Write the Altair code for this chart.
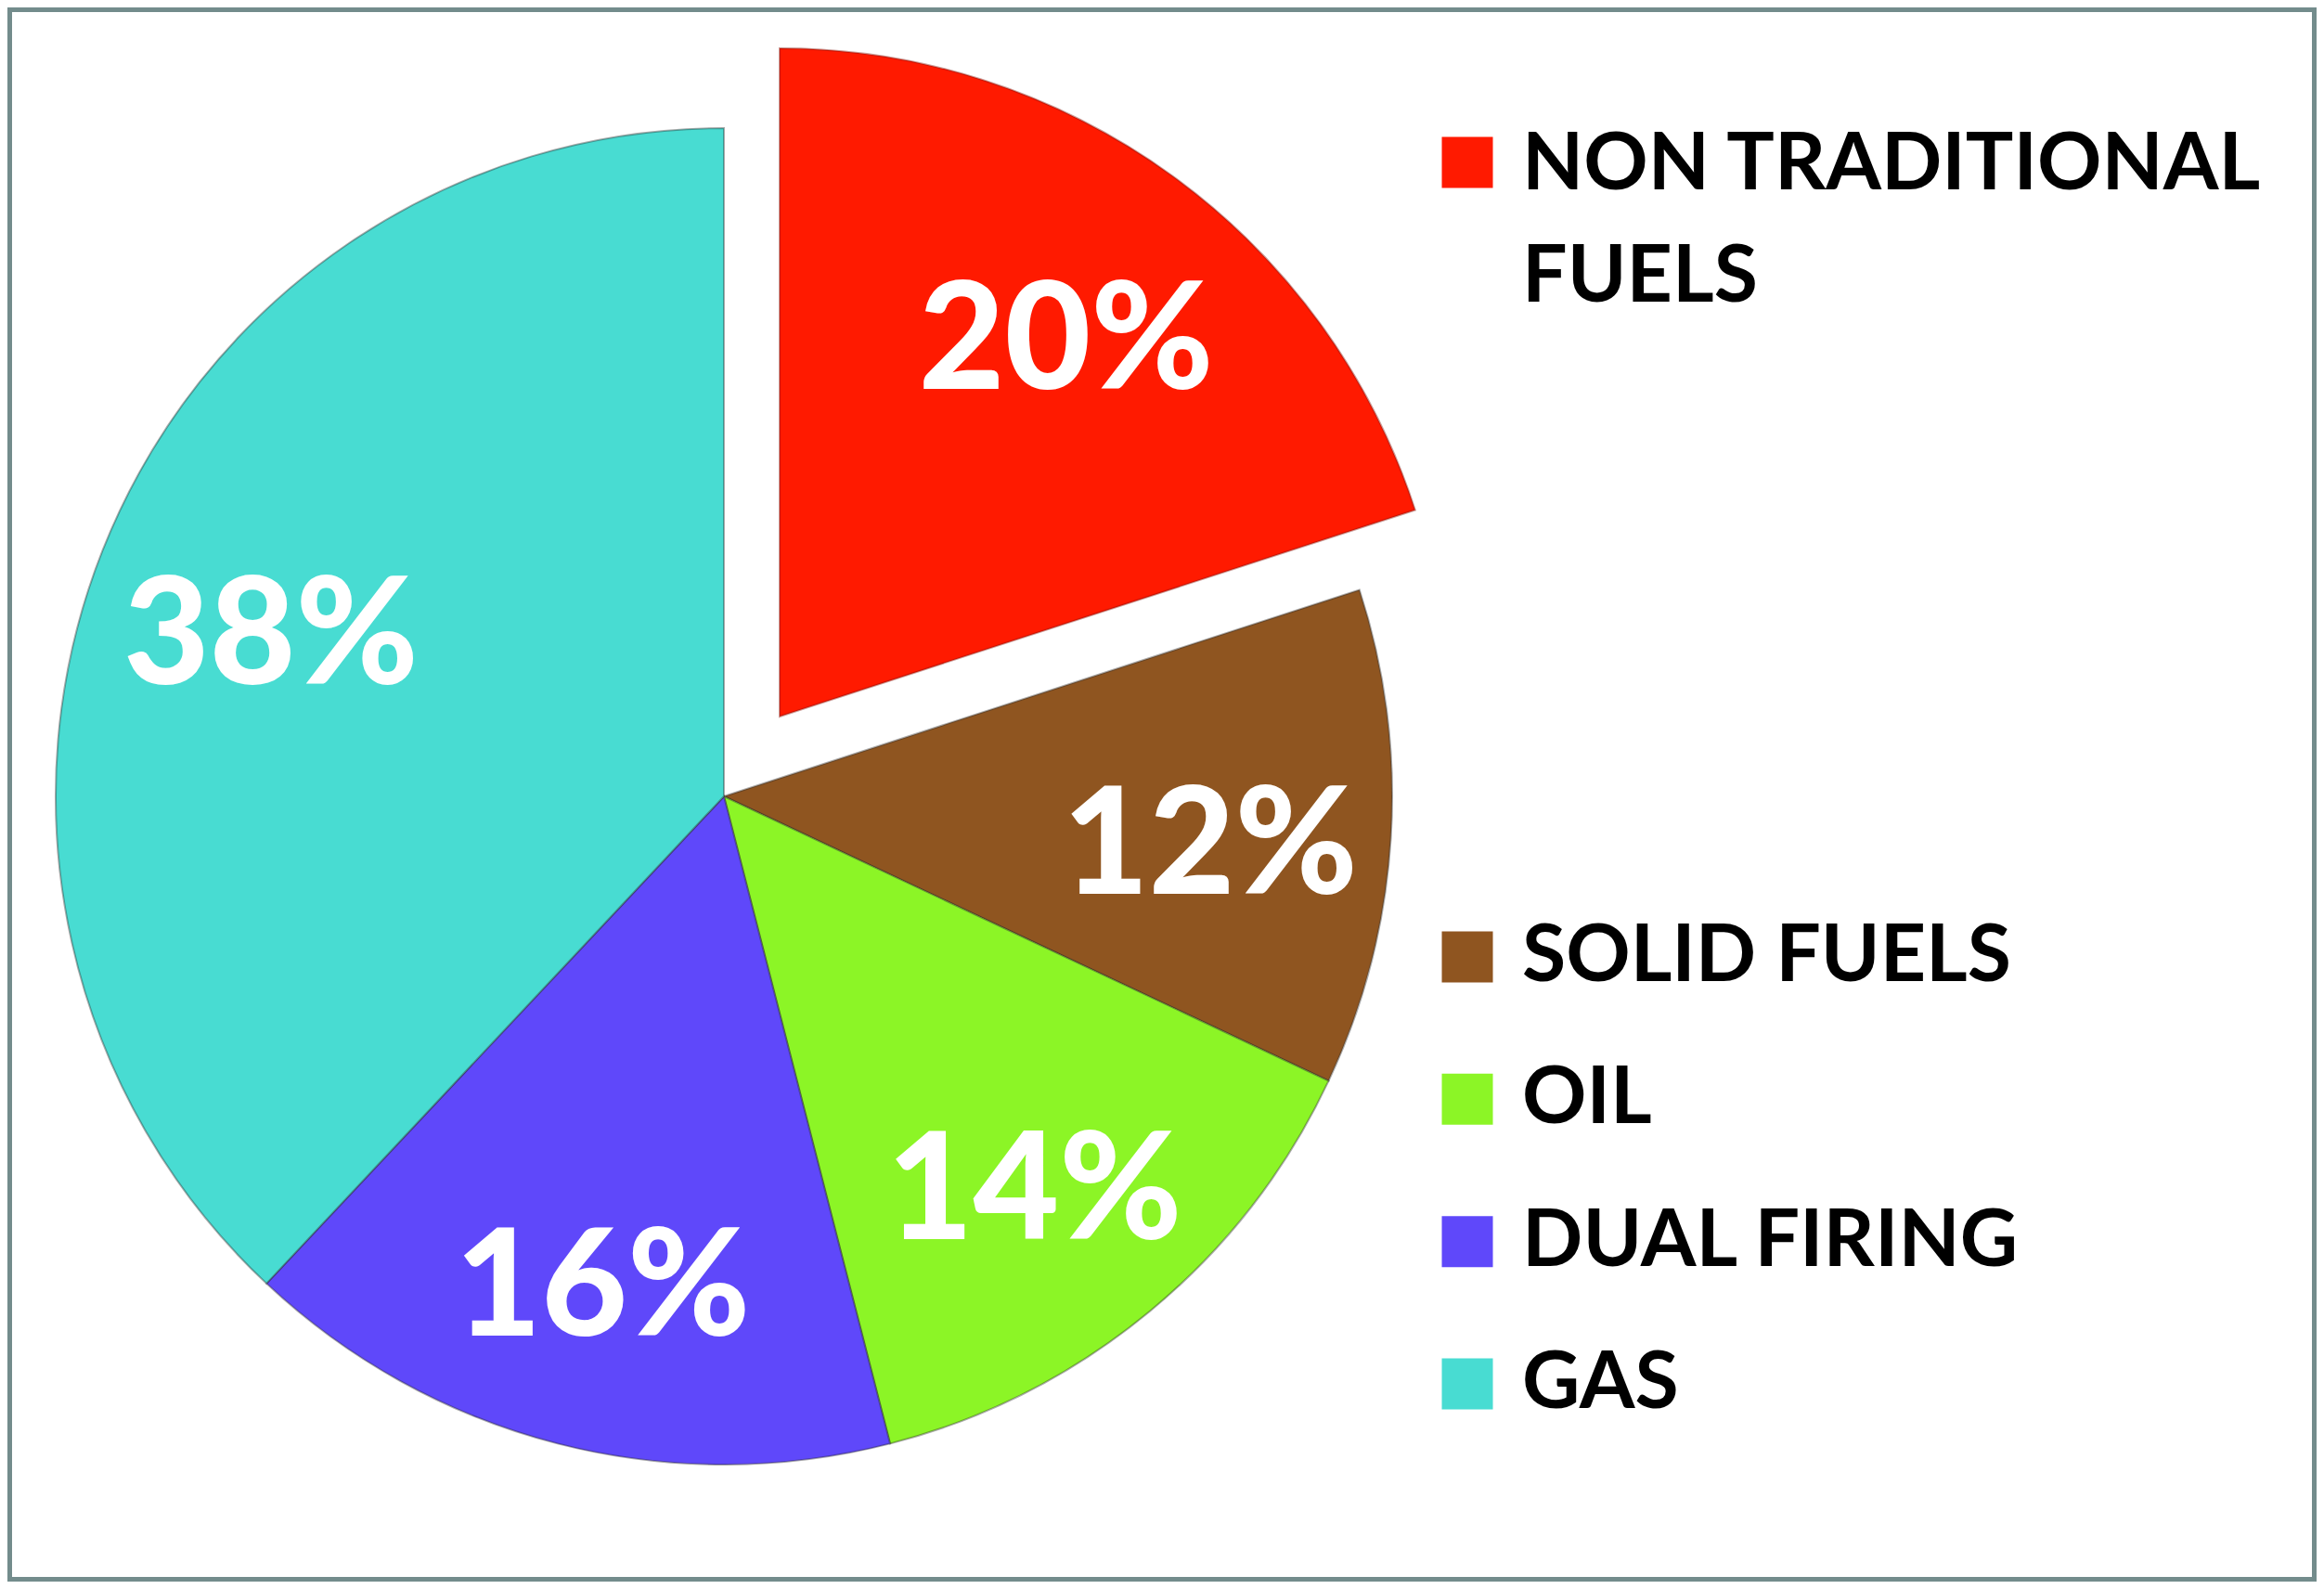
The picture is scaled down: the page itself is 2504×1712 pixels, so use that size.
import math
import altair as alt
import pandas as pd

# ---- data ----
categories = ["NON TRADITIONAL FUELS", "SOLID FUELS", "OIL", "DUAL FIRING", "GAS"]
shares = [20, 12, 14, 16, 38]
colors = ["#FF1A00", "#8F5520", "#8CF526", "#5F48FA", "#48DCD2"]

df = pd.DataFrame({"category": categories, "value": shares, "order": list(range(len(categories)))})

# ---- layout (pixels) ----
W, H = 2488, 1696
CX, CY = 772, 850
R = 720
EXPLODE_DX, EXPLODE_DY = 60, -86
LABEL_R = 525
LEG_SQ_X = 1573
LEG_TX_X = 1632
FONT = "Lato"

theta_scale = alt.Scale(domain=[0, 100], range=[0, 2 * math.pi])
color_scale = alt.Scale(domain=categories, range=colors)

base = (
    alt.Chart(df)
    .transform_window(cum="sum(value)", sort=[alt.SortField("order")], frame=[None, 0])
    .transform_calculate(
        start="datum.cum - datum.value",
        mid="datum.cum - datum.value / 2",
        label="datum.value + '%'",
    )
)

arc_enc = dict(
    theta=alt.Theta("start:Q", scale=theta_scale),
    theta2="cum:Q",
    color=alt.Color("category:N", scale=color_scale, legend=None),
)

arcs_main = base.transform_filter("datum.order > 0").mark_arc(
    radius=R, stroke="#2a2a2a", strokeWidth=2, strokeOpacity=0.4
).encode(x=alt.value(CX), y=alt.value(CY), **arc_enc)

arc_expl = base.transform_filter("datum.order == 0").mark_arc(
    radius=R, stroke="#7a0a00", strokeWidth=2, strokeOpacity=0.4
).encode(x=alt.value(CX + EXPLODE_DX), y=alt.value(CY + EXPLODE_DY), **arc_enc)

lab_style = dict(radius=LABEL_R, font=FONT, fontWeight=900, fontSize=160, color="white",
                 align="center", baseline="middle", dy=24)

labels_main = base.transform_filter("datum.order > 0").mark_text(**lab_style).encode(
    theta=alt.Theta("mid:Q", scale=theta_scale), text="label:N",
    x=alt.value(CX), y=alt.value(CY),
)
labels_expl = base.transform_filter("datum.order == 0").mark_text(**lab_style).encode(
    theta=alt.Theta("mid:Q", scale=theta_scale), text="label:N",
    x=alt.value(CX + EXPLODE_DX), y=alt.value(CY + EXPLODE_DY),
)

# ---- legend ----
leg_rest = alt.Chart(df).transform_filter("datum.order > 0")
rest_y = alt.Y("category:N", scale=alt.Scale(domain=categories[1:], range=[1023, 1483], padding=0), axis=None)

leg_sq_rest = leg_rest.mark_square(size=3025, opacity=1).encode(
    x=alt.value(LEG_SQ_X), y=rest_y,
    color=alt.Color("category:N", scale=color_scale, legend=None),
)
leg_tx_rest = leg_rest.mark_text(align="left", baseline="middle", font=FONT, fontWeight="bold",
                                 fontSize=86, color="black").encode(
    x=alt.value(LEG_TX_X), y=rest_y, text="category:N",
)

leg_first = alt.Chart(df).transform_filter("datum.order == 0").transform_calculate(
    wrapped="replace(datum.category, 'TRADITIONAL ', 'TRADITIONAL\\n')"
)
leg_sq_first = leg_first.mark_square(size=3025, opacity=1).encode(
    x=alt.value(LEG_SQ_X), y=alt.value(167),
    color=alt.Color("category:N", scale=color_scale, legend=None),
)
leg_tx_first = leg_first.mark_text(align="left", baseline="middle", font=FONT, fontWeight="bold",
                                   fontSize=86, color="black", lineBreak="\n", lineHeight=121).encode(
    x=alt.value(LEG_TX_X), y=alt.value(170), text="wrapped:N",
)

chart = (
    alt.layer(arcs_main, arc_expl, labels_main, labels_expl,
              leg_sq_rest, leg_tx_rest, leg_sq_first, leg_tx_first)
    .properties(width=W, height=H, padding=0, autosize="none", background="white")
    .configure_view(stroke="#738C8C", strokeWidth=10)
)

chart.save("out.html", embed_options={"renderer": "svg", "actions": False})
